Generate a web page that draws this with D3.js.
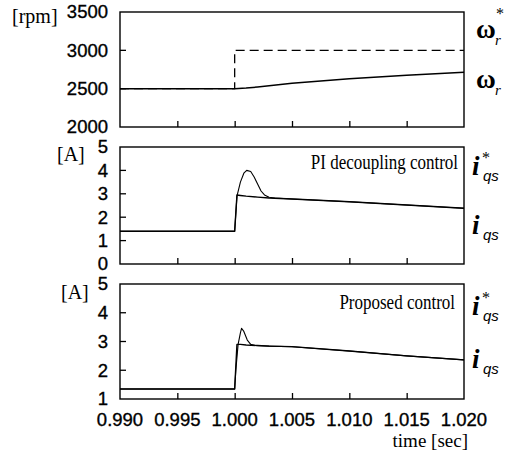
<!DOCTYPE html>
<html><head><meta charset="utf-8">
<script src="https://cdn.jsdelivr.net/npm/d3@7"></script>
<style>body{margin:0;background:#fff}svg{display:block}</style>
</head><body>
<svg id="c" width="518" height="451"></svg>
<script>
// ---- data ----
const xTicks = [0.990, 0.995, 1.000, 1.005, 1.010, 1.015, 1.020];
const speedTicks = [2000, 2500, 3000, 3500];
const currTicks1 = [0, 1, 2, 3, 4, 5];
const currTicks2 = [1, 2, 3, 4, 5];

// speed reference (dashed)
const wRefT = [0.990, 1.000, 1.000, 1.020];
const wRefV = [2500, 2500, 3000, 3000];
// actual speed
const wT = [0.990, 1.000, 1.001, 1.002, 1.005, 1.010, 1.015, 1.020];
const wV = [2500, 2500, 2508, 2522, 2570, 2628, 2675, 2715];

// PI decoupling: current reference
const piRefT = [0.990, 1.0000, 1.0002, 1.0005, 1.001, 1.002, 1.003, 1.005, 1.010, 1.015, 1.020];
const piRefV = [1.40, 1.40, 2.95, 2.93, 2.90, 2.86, 2.82, 2.78, 2.66, 2.52, 2.38];
// PI decoupling: actual current
const piT = [0.990, 1.0000, 1.0002, 1.0005, 1.0008, 1.00105, 1.0014, 1.0017, 1.0020, 1.0023, 1.0026, 1.0030, 1.0035, 1.005, 1.010, 1.015, 1.020];
const piV = [1.40, 1.40, 2.90, 3.50, 3.88, 4.00, 3.95, 3.72, 3.42, 3.12, 2.95, 2.85, 2.82, 2.78, 2.66, 2.52, 2.38];

// Proposed: current reference
const prRefT = [0.990, 1.0000, 1.0002, 1.0005, 1.001, 1.002, 1.003, 1.005, 1.010, 1.015, 1.020];
const prRefV = [1.35, 1.35, 2.90, 2.90, 2.88, 2.86, 2.84, 2.82, 2.67, 2.50, 2.36];
// Proposed: actual current
const prT = [0.990, 1.0000, 1.0001, 1.0003, 1.0005, 1.0006, 1.0008, 1.0011, 1.0014, 1.0018, 1.003, 1.005, 1.010, 1.015, 1.020];
const prV = [1.35, 1.35, 2.00, 2.90, 3.30, 3.46, 3.35, 3.05, 2.90, 2.86, 2.84, 2.82, 2.67, 2.50, 2.36];

// ---- drawing ----
const svg = d3.select("#c");
const X0 = 120, X1 = 464;
const x = d3.scaleLinear().domain([0.990, 1.020]).range([X0, X1]);

const panels = [
  {domain:[2000,3500], range:[127,12], ticks:speedTicks},
  {domain:[0,5], range:[264,147], ticks:currTicks1},
  {domain:[1,5], range:[399,284], ticks:currTicks2}
];
const sans = "'Liberation Sans', Arial, sans-serif";
const serif = "'Liberation Serif', 'Times New Roman', serif";

panels.forEach(p => {
  p.y = d3.scaleLinear().domain(p.domain).range(p.range);
  const g = svg.append("g");
  const bx = d3.axisBottom(x).tickValues(xTicks.slice(1,-1)).tickSize(-6).tickFormat("");
  g.append("g").attr("transform", `translate(0,${p.range[0]})`).call(bx)
    .call(a => a.select(".domain").remove())
    .call(a => a.selectAll("line").attr("stroke","#000").attr("stroke-width",1.3));
  const ly = d3.axisLeft(p.y).tickValues(p.ticks).tickSize(0).tickPadding(12).tickFormat(d3.format("d"));
  const ga = g.append("g").attr("transform", `translate(${X0},0)`).call(ly);
  ga.select(".domain").remove();
  ga.selectAll("text").attr("font-family", sans).attr("font-size", 18.5).attr("fill","#000")
    .attr("stroke","#000").attr("stroke-width",0.35);
  g.selectAll("line.yt").data(p.ticks.slice(1,-1)).enter().append("line")
    .attr("x1", X0).attr("x2", X0+6).attr("y1", d=>p.y(d)).attr("y2", d=>p.y(d))
    .attr("stroke","#000").attr("stroke-width",1.3);
  g.append("rect").attr("x", X0).attr("y", p.range[1]).attr("width", X1-X0).attr("height", p.range[0]-p.range[1])
    .attr("fill","none").attr("stroke","#000").attr("stroke-width",1.4);
});

function drawLine(p, T, V, opts) {
  const line = d3.line().x(d=>x(d[0])).y(d=>p.y(d[1]));
  svg.append("path").datum(T.map((t,i)=>[t,V[i]])).attr("d", line)
    .attr("fill","none").attr("stroke","#000").attr("stroke-width", opts.w || 1.3)
    .attr("stroke-dasharray", opts.dash || null).attr("stroke-linejoin","round");
}
drawLine(panels[0], wRefT, wRefV, {w:1.3, dash:"9,5"});
drawLine(panels[0], wT, wV, {w:1.5});
drawLine(panels[1], piRefT, piRefV, {w:1.4});
drawLine(panels[1], piT, piV, {w:1.1});
drawLine(panels[2], prRefT, prRefV, {w:1.4});
drawLine(panels[2], prT, prV, {w:1.1});

svg.append("g").selectAll("text").data(xTicks).enter().append("text")
  .attr("x", d=>x(d)).attr("y", 426).attr("text-anchor","middle")
  .attr("font-family", sans).attr("font-size", 18.5).attr("stroke","#000").attr("stroke-width",0.35)
  .text(d=>d3.format(".3f")(d));

svg.append("text").attr("x", 468).attr("y", 447).attr("text-anchor","end")
  .attr("font-family", serif).attr("font-size", 19).text("time [sec]");
svg.append("text").attr("x", 12).attr("y", 23).attr("font-family", serif).attr("font-size", 20).text("[rpm]");
svg.append("text").attr("x", 57).attr("y", 161).attr("font-family", serif).attr("font-size", 20).text("[A]");
svg.append("text").attr("x", 61).attr("y", 299).attr("font-family", serif).attr("font-size", 20).text("[A]");

function caption(xr, yb, txt) {
  svg.append("text").attr("transform", `translate(${xr},${yb}) scale(1,1.18)`).attr("text-anchor","end")
    .attr("font-family", serif).attr("font-size", 17).text(txt);
}
caption(458, 169, "PI decoupling control");
caption(455, 309, "Proposed control");

function sym(xb, yb, main, sub, star, isOmega) {
  svg.append("text").attr("x", xb).attr("y", yb).attr("font-family", serif).attr("font-size", 27)
    .attr("font-weight","bold").attr("font-style", isOmega ? "normal" : "italic").text(main);
  if (star) svg.append("text").attr("x", xb + (isOmega ? 20 : 10)).attr("y", yb - (isOmega ? 19 : 12))
    .attr("font-family", serif).attr("font-size", 16).text("*");
  svg.append("text").attr("x", xb + (isOmega ? 19 : 11)).attr("y", yb + (isOmega ? 7 : 6))
    .attr("font-family", isOmega ? serif : sans).attr("font-size", 15).attr("font-style","italic").text(sub);
}
sym(476, 38, "ω", "r", true, true);
sym(476, 88, "ω", "r", false, true);
sym(472, 175, "i", "qs", true, false);
sym(472, 234, "i", "qs", false, false);
sym(472, 315, "i", "qs", true, false);
sym(472, 368, "i", "qs", false, false);
</script>
</body></html>
